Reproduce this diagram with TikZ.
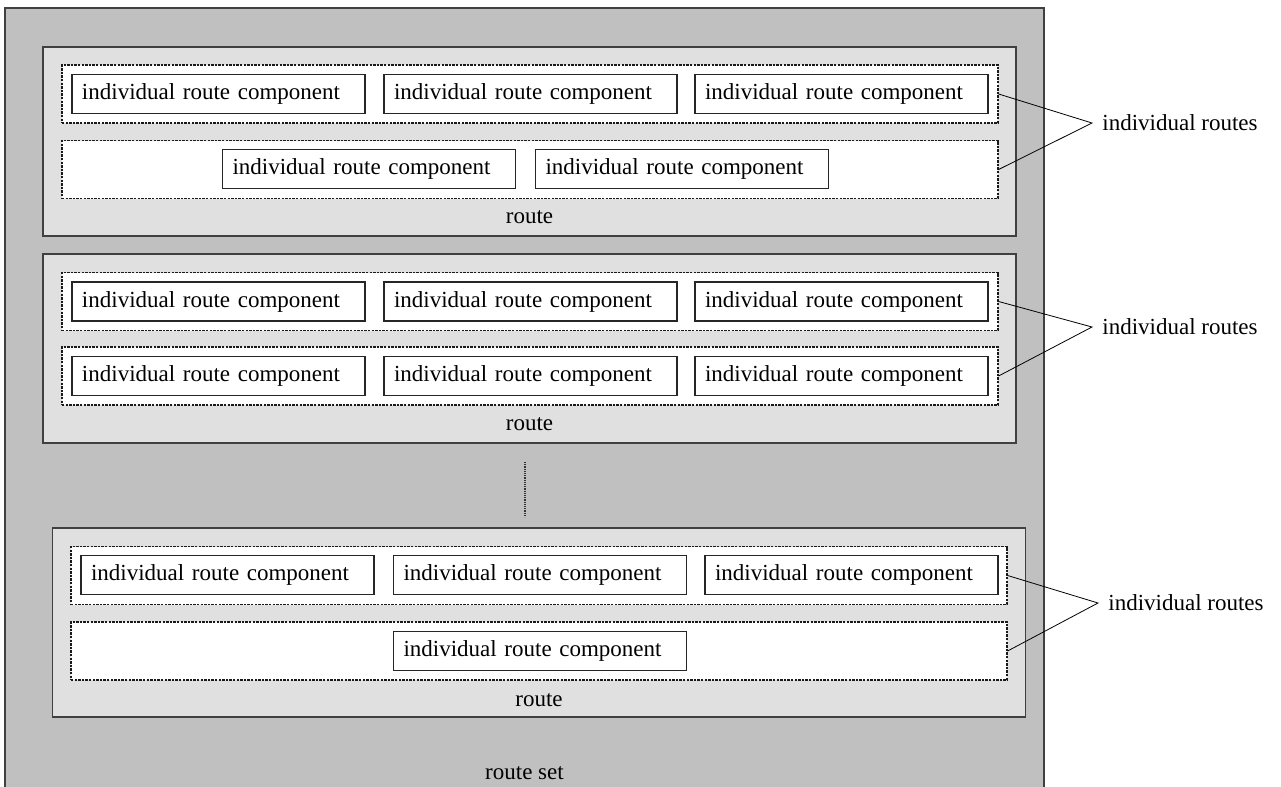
\documentclass[tikz,border=0pt]{standalone}
\usepackage{fontspec}
\setmainfont{Liberation Serif}
\usetikzlibrary{positioning}
\definecolor{setgray}{HTML}{C0C0C0}
\definecolor{routegray}{HTML}{E0E0E0}
\tikzset{
  comp/.style={draw=black!85, fill=white, line width=0.6pt, minimum height=19.5pt,
    text width=136.5pt, inner xsep=5pt, inner ysep=0pt, align=left},
  row/.style={draw=black!90, fill=white, line width=0.6pt, dash pattern=on 1.2pt off 0.6pt,
    minimum width=468pt, minimum height=29pt, inner sep=0pt},
  route/.style={draw=black!75, fill=routegray, line width=0.8pt,
    minimum width=486.5pt, minimum height=94.5pt, inner sep=0pt},
  routeset/.style={draw=black!75, fill=setgray, line width=0.8pt,
    minimum width=519.5pt, minimum height=395pt, inner sep=0pt},
  lbl/.style={inner sep=0pt},
  side/.style={anchor=west, inner xsep=5pt, inner ysep=0pt}
}
\begin{document}
\begin{tikzpicture}[x=0.5pt, y=-0.5pt, font=\fontsize{11.5}{13}\selectfont]
  \useasboundingbox (0,0) rectangle (1281,787);
%% route set
  \node[routeset] (set) at (524.5,403) {};
  \node[lbl] (setlbl) at (524.5,773) {route set};
%% first route
  \node[route] (r1) at (529.5,141.5) {};
  \node[row] (r1a) at (530,94) {};
  \node[row] (r1b) at (530,169.5) {};
  \node[comp] (c11) at (218.5,94) {individual route component};
  \node[comp] (c12) at (530.5,94) {individual route component};
  \node[comp] (c13) at (841.5,94) {individual route component};
  \node[comp] (c14) at (369,169) {individual route component};
  \node[comp] (c15) at (682,169) {individual route component};
  \node[lbl] (r1lbl) at (529.5,217) {route};
  \node[side] (s1) at (1092,123) {individual routes};
  \draw (r1a.east) -- (s1.west) -- (r1b.east);
%% second route
  \node[route] (r2) at (529.5,348.5) {};
  \node[row] (r2a) at (530,301.5) {};
  \node[row] (r2b) at (530,376) {};
  \node[comp] (c21) at (218.5,301.5) {individual route component};
  \node[comp] (c22) at (530.5,301.5) {individual route component};
  \node[comp] (c23) at (841.5,301.5) {individual route component};
  \node[comp] (c24) at (218.5,376) {individual route component};
  \node[comp] (c25) at (530.5,376) {individual route component};
  \node[comp] (c26) at (841.5,376) {individual route component};
  \node[lbl] (r2lbl) at (529.5,424) {route};
  \node[side] (s2) at (1092,327) {individual routes};
  \draw (r2a.east) -- (s2.west) -- (r2b.east);
%% dots between routes
  \coordinate (d1) at (525,462);
  \coordinate (d2) at (525,517);
  \draw[black!80, line width=0.6pt, dash pattern=on 0.6pt off 0.5pt] (d1) -- (d2);
%% last route
  \node[route] (r3) at (539,622.5) {};
  \node[row] (r3a) at (539,575.5) {};
  \node[row] (r3b) at (539,651) {};
  \node[comp] (c31) at (227.5,575) {individual route component};
  \node[comp] (c32) at (540,575) {individual route component};
  \node[comp] (c33) at (851.5,575) {individual route component};
  \node[comp] (c34) at (540,651) {individual route component};
  \node[lbl] (r3lbl) at (539,700) {route};
  \node[side] (s3) at (1098,603) {individual routes};
  \draw (r3a.east) -- (s3.west) -- (r3b.east);
\end{tikzpicture}
\end{document}
